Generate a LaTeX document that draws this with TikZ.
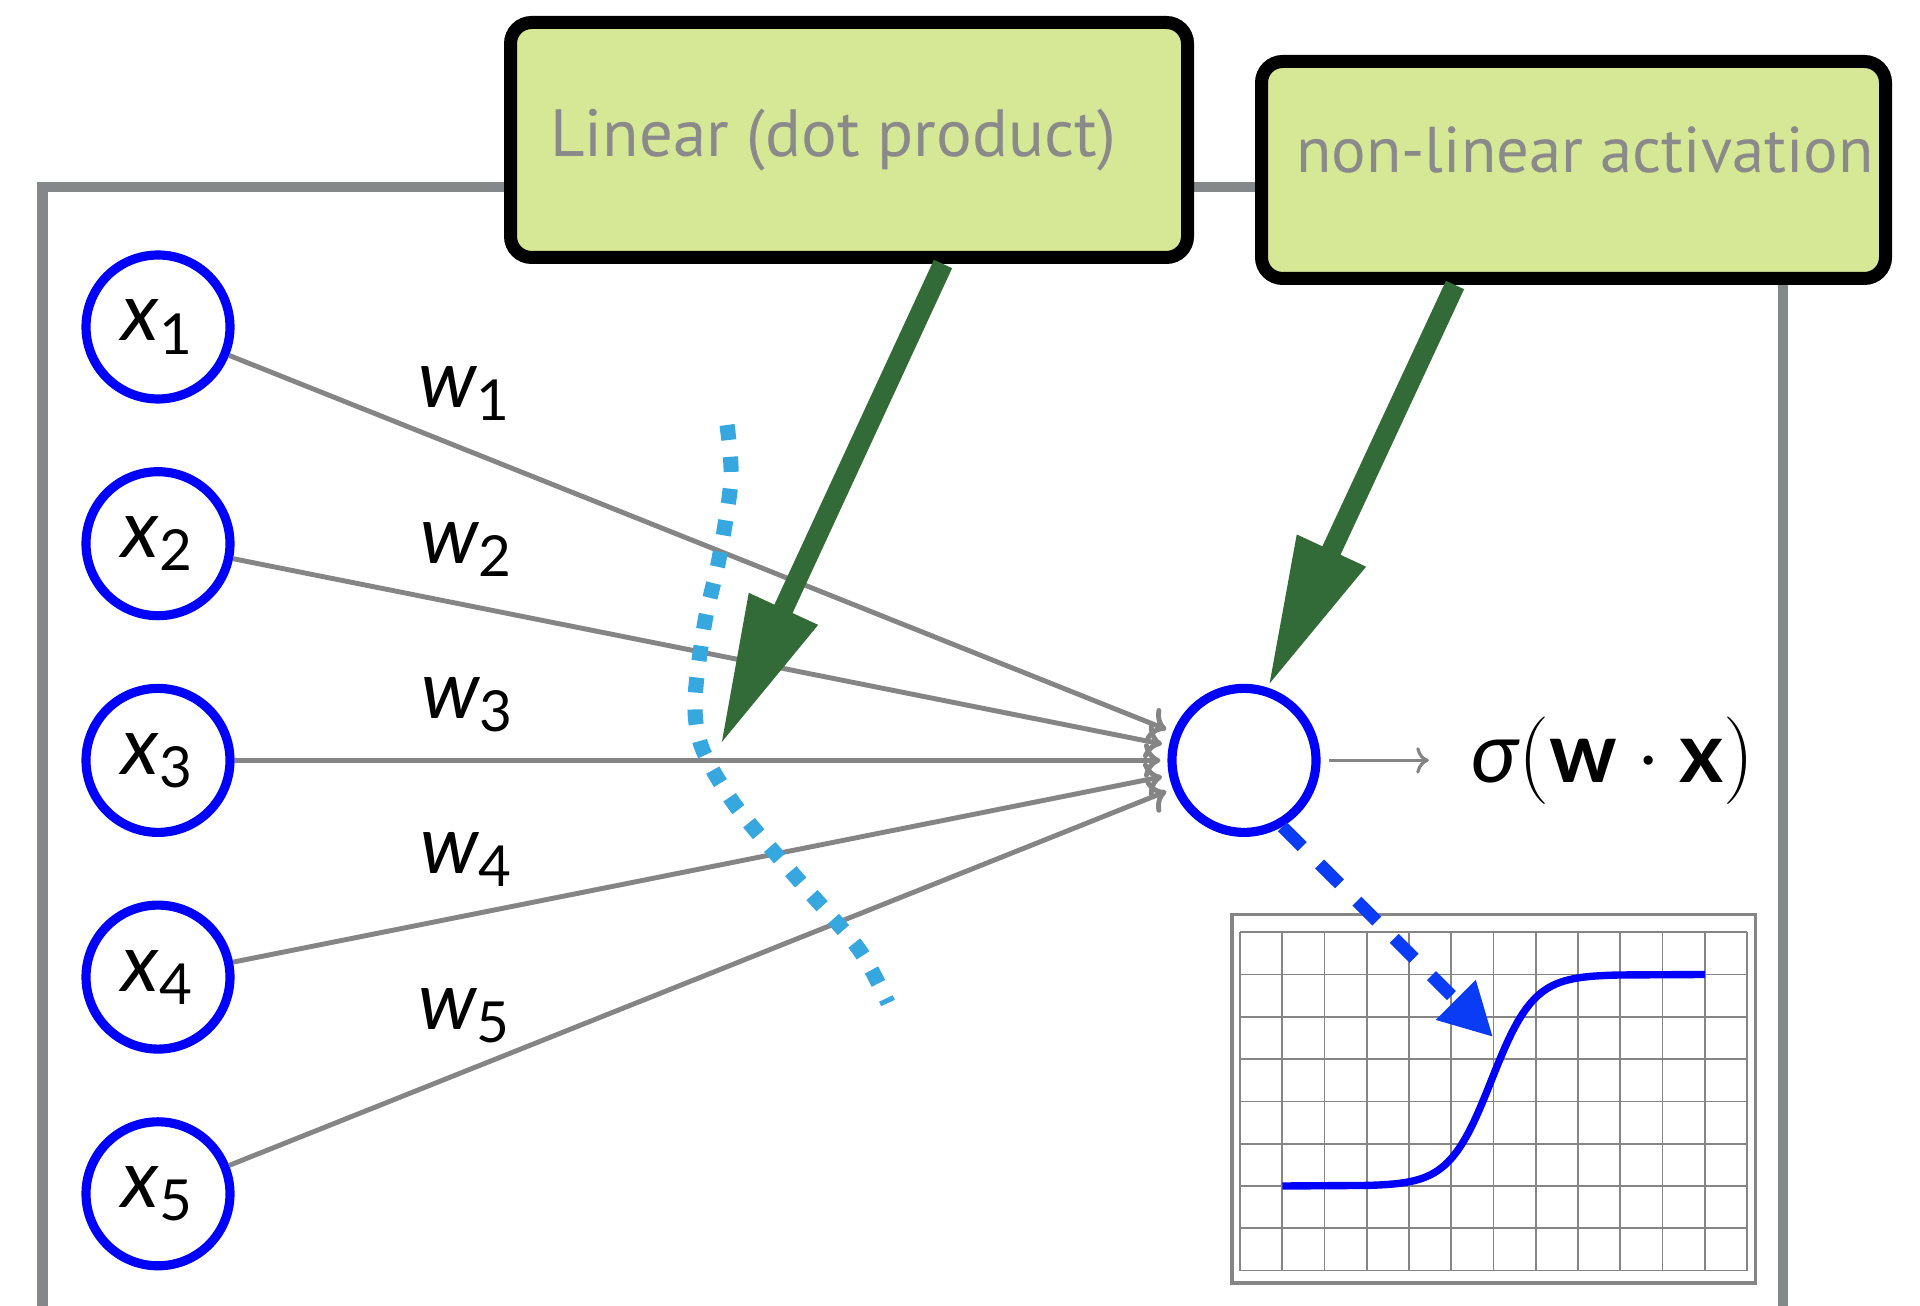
\documentclass[tikz,border=0pt]{standalone}
\usepackage{amsmath}
\usepackage[no-math]{fontspec}
\newfontfamily\boxfont{PT Sans}
\newfontfamily\symfont{Lato}
\usetikzlibrary{arrows.meta}

\definecolor{boxfill}{RGB}{214,231,150}
\definecolor{boxtext}{RGB}{138,138,138}
\definecolor{framegray}{RGB}{132,136,136}
\definecolor{linegray}{RGB}{133,133,133}
\definecolor{arrowgreen}{RGB}{50,107,56}
\definecolor{dotblue}{RGB}{54,168,223}
\definecolor{dashblue}{RGB}{10,60,245}

\newcommand{\sv}[1]{\text{\itshape #1}}
\newcommand{\bv}[1]{\text{\bfseries #1}}

\begin{document}
\begin{tikzpicture}[
        neuron/.style={circle,draw=blue,line width=2.6pt,minimum size=1.44cm,inner sep=0pt,font=\symfont\fontsize{23}{27}\selectfont},
        labelbox/.style={draw=black,line width=3.7pt,rounded corners=6pt,fill=boxfill,text=boxtext},
        weight/.style={draw=linegray,line width=1.4pt,->,shorten >=2pt},
        wlabel/.style={pos=.25,anchor=base,yshift=.42cm,font=\symfont\fontsize{23}{27}\selectfont},
        bigarrow/.style={draw=arrowgreen,line width=5.7pt,-{Triangle[length=43pt,width=20pt]}}
    ]
    \useasboundingbox (0,0) rectangle (19.2,-13.06);
    \draw[framegray,line width=3pt] (0.425,-13.06) |- (17.83,-1.87) -- (17.83,-13.06);

    \node[neuron] (x1) at (1.58,-3.27) {$\sv{x}_{\text{1}}$};
    \node[neuron] (x2) at (1.58,-5.437) {$\sv{x}_{\text{2}}$};
    \node[neuron] (x3) at (1.58,-7.604) {$\sv{x}_{\text{3}}$};
    \node[neuron] (x4) at (1.58,-9.771) {$\sv{x}_{\text{4}}$};
    \node[neuron] (x5) at (1.58,-11.938) {$\sv{x}_{\text{5}}$};
    \node[neuron] (out) at (12.44,-7.604) {};
    \node[font=\symfont\fontsize{24}{28}\selectfont] (sig) at (16.13,-7.604) {$\sv{σ}(\bv{w}\cdot\bv{x})$};

    \draw[weight] (x1) -- node[wlabel] {$\sv{w}_{\text{1}}$} (out);
    \draw[weight] (x2) -- node[wlabel] {$\sv{w}_{\text{2}}$} (out);
    \draw[weight] (x3) -- node[wlabel] {$\sv{w}_{\text{3}}$} (out);
    \draw[weight] (x4) -- node[wlabel] {$\sv{w}_{\text{4}}$} (out);
    \draw[weight] (x5) -- node[wlabel] {$\sv{w}_{\text{5}}$} (out);
    \draw[draw=linegray,line width=0.9pt,->,shorten <=2.5pt,shorten >=8.5pt] (out) -- (sig);

    \begin{scope}[shift={(12.40,-12.706)},x=0.4225cm,y=0.423cm]
        \draw[linegray,line width=0.5pt,step=1] (0,0) grid (12,8);
        \draw[linegray,line width=1pt] (-0.19,-0.29) rectangle (12.2,8.42);
        \draw[blue,line width=2.1pt] (1,2) -- plot[domain=3:9,samples=60,smooth] (\x,{2+5/(1+exp(-2*(\x-5.95)))}) -- (11,7);
        \coordinate (hit) at (5.99,5.52);
    \end{scope}
    \draw[dashblue,line width=3.6pt,dash pattern=on 8pt off 7pt,-{Triangle[length=15pt,width=15pt]}] (out.-60) -- (hit);

    \draw[dotblue,line width=4.3pt,dash pattern=on 4.3pt off 4.8pt] plot[smooth] coordinates {(7.27,-4.25) (7.31,-4.8) (7.19,-5.59) (7.05,-6.21) (6.95,-7.0) (7.02,-7.48) (7.35,-8.05) (7.95,-8.76) (8.58,-9.48) (8.88,-10.03)};

    \node[labelbox,minimum width=6.77cm,minimum height=2.35cm,font=\boxfont\fontsize{19}{22}\selectfont] (lin) at (8.49,-1.40) {Linear (dot product)\hspace*{0.32cm}};
    \node[labelbox,minimum width=6.24cm,minimum height=2.17cm,text height=0.46cm,text depth=0.4cm,font=\boxfont\fontsize{18.4}{22}\selectfont] (act) at (15.735,-1.70) {\hspace*{0.23cm}non-linear activation};

    \coordinate (dotp) at (7.20,-7.46);
    \draw[bigarrow] ([xshift=0.94cm]lin.south) -- (dotp);
    \draw[bigarrow] ([xshift=-1.185cm]act.south) -- (out.72);
\end{tikzpicture}
\end{document}
